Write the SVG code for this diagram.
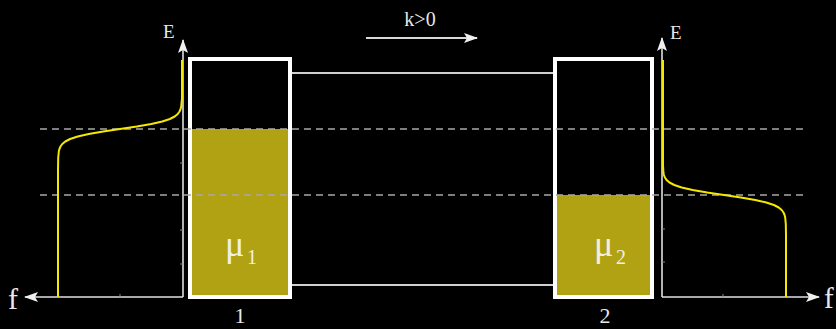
<svg xmlns="http://www.w3.org/2000/svg" width="836" height="329" viewBox="0 0 836 329">
<defs>
<style>
.axis{stroke:#e0e0e0;stroke-width:1.6;fill:none}
.tick{stroke:#888;stroke-width:1;fill:none}
.box{fill:none;stroke:#ffffff;stroke-width:4}
.fill{fill:#b0a212}
.lead{stroke:#d0d0d0;stroke-width:2;fill:none}
.dash{stroke:#a8a8a8;stroke-width:1.6;stroke-dasharray:7 5;fill:none}
.fermi{stroke:#f5e800;stroke-width:2;fill:none;stroke-linejoin:round}
.lbl{font-family:"Liberation Serif","DejaVu Serif",serif;fill:#e8e8e8}
.mu{font-family:"Liberation Serif","DejaVu Serif",serif;fill:#f2f0e2}
</style>
<marker id="ah" viewBox="0 0 14 10" refX="13" refY="5" markerWidth="14" markerHeight="10" markerUnits="userSpaceOnUse" orient="auto">
<path d="M0,0 L14,5 L0,10 L3,5 Z" fill="#f0f0f0"/>
</marker>
</defs>
<rect width="836" height="329" fill="#000"/>

<g id="connectors">
<line class="lead" x1="292" y1="73" x2="553" y2="73"/>
<line class="lead" x1="292" y1="285" x2="553" y2="285"/>
<line x1="366" y1="38" x2="477" y2="38" stroke="#d8d8d8" stroke-width="2" marker-end="url(#ah)"/>
</g>

<g id="box1">
<rect class="fill" x="190" y="129" width="100" height="168"/>
<rect class="box" x="190" y="59" width="100" height="238"/>
<text class="mu" x="225" y="256" font-size="36">μ</text>
<text class="mu" x="247" y="264" font-size="20">1</text>
<text class="lbl" x="240" y="323" font-size="22" text-anchor="middle">1</text>
</g>

<g id="box2">
<rect class="fill" x="555" y="195" width="97" height="102"/>
<rect class="box" x="555" y="59" width="97" height="238"/>
<text class="mu" x="594" y="256" font-size="36">μ</text>
<text class="mu" x="616" y="264" font-size="20">2</text>
<text class="lbl" x="605" y="323" font-size="22" text-anchor="middle">2</text>
</g>

<g id="dashes">
<line class="dash" x1="40" y1="129" x2="805" y2="129"/>
<line class="dash" x1="40" y1="195" x2="805" y2="195"/>
</g>

<g id="leftaxes">
<line class="axis" x1="183" y1="297" x2="183" y2="40" marker-end="url(#ah)"/>
<line class="axis" x1="183" y1="297" x2="25" y2="297" marker-end="url(#ah)"/>
<line class="tick" x1="180" y1="163" x2="183" y2="163"/>
<line class="tick" x1="180" y1="230" x2="183" y2="230"/>
<line class="tick" x1="180" y1="264" x2="183" y2="264"/>
<line class="tick" x1="120" y1="294" x2="120" y2="297"/>
<text class="lbl" x="163" y="37.5" font-size="19">E</text>
<text class="lbl" x="8" y="309" font-size="30">f</text>
<polyline class="fermi" points="182,60 182,98 181.2,106.5 180.6,109 179.5,111.5 177.7,114 174.7,116.5 169.9,119 162.3,121.5 151.3,124 136.8,126.5 120,129 103.2,131.5 88.7,134 77.7,136.5 70.1,139 65.3,141.5 62.3,144 60.5,146.5 59.4,149 58.8,151.5 58.2,158 58,170 58,297"/>
</g>

<g id="rightaxes">
<line class="axis" x1="662" y1="297" x2="662" y2="38" marker-end="url(#ah)"/>
<line class="axis" x1="662" y1="297" x2="819" y2="297" marker-end="url(#ah)"/>
<line class="tick" x1="662" y1="229" x2="665" y2="229"/>
<line class="tick" x1="662" y1="262" x2="665" y2="262"/>
<line class="tick" x1="723" y1="294" x2="723" y2="297"/>
<text class="lbl" x="670" y="39" font-size="19">E</text>
<text class="lbl" x="824" y="308" font-size="29">f</text>
<polyline class="fermi" points="663,60 663,165 663.4,172.5 663.9,175 664.9,177.5 666.6,180 669.5,182.5 674.3,185 681.7,187.5 692.7,190 707.2,192.5 724,195 740.8,197.5 755.3,200 766.3,202.5 773.9,205 778.7,207.5 781.7,210 783.5,212.5 784.6,215 785.2,217.5 785.8,224 786,235 786,297"/>
</g>

<g id="title">
<text class="lbl" x="420" y="26" font-size="20" text-anchor="middle">k&gt;0</text>
</g>
</svg>
